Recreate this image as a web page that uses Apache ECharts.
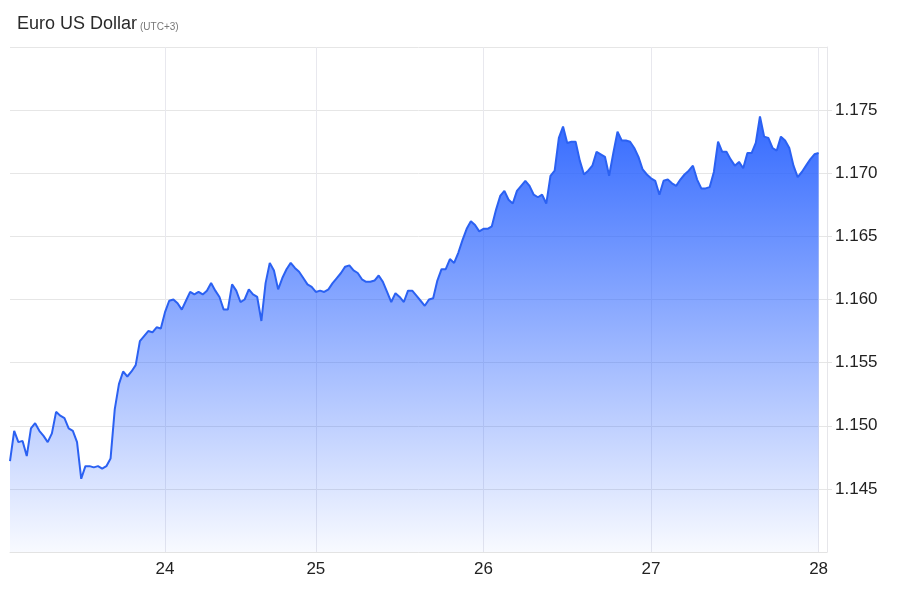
<!DOCTYPE html>
<html><head><meta charset="utf-8">
<script src="https://cdn.jsdelivr.net/npm/echarts@6/dist/echarts.min.js"></script>
<style>html,body{margin:0;padding:0;background:#fff}#c{width:900px;height:600px}</style>
</head><body><div id="c"></div>
<script>
const dayLabels = ['23', '24', '25', '26', '27', '28'];
const day23 = [1.1472, 1.1496, 1.1487, 1.1488, 1.1476, 1.1498, 1.1502, 1.1496, 1.1492, 1.1487,
  1.1494, 1.1511, 1.1508, 1.1506, 1.1498, 1.1496, 1.1487, 1.1458, 1.1468, 1.1468,
  1.1467, 1.1468, 1.1466, 1.1468, 1.1474, 1.1513, 1.1533, 1.1543, 1.1539, 1.1543,
  1.1548, 1.1567, 1.1571, 1.1575, 1.1574, 1.1578, 1.1577];
const day24 = [1.1590, 1.1599, 1.1600, 1.1597, 1.1592, 1.1599, 1.1606, 1.1604, 1.1606, 1.1604,
  1.1607, 1.1613, 1.1607, 1.1602, 1.1592, 1.1592, 1.1612, 1.1607, 1.1598, 1.1600,
  1.1608, 1.1604, 1.1602, 1.1583, 1.1613, 1.1629, 1.1623, 1.1608, 1.1617, 1.1624,
  1.1629, 1.1625, 1.1622, 1.1617, 1.1612, 1.1610];
const day25 = [1.1606, 1.1607, 1.1606, 1.1608, 1.1613, 1.1617, 1.1621, 1.1626, 1.1627, 1.1623,
  1.1621, 1.1616, 1.1614, 1.1614, 1.1615, 1.1619, 1.1614, 1.1606, 1.1598, 1.1605,
  1.1602, 1.1598, 1.1607, 1.1607, 1.1603, 1.1599, 1.1595, 1.1600, 1.1601, 1.1615,
  1.1624, 1.1624, 1.1632, 1.1629, 1.1637, 1.1647, 1.1656, 1.1662, 1.1659, 1.1654];
const day26 = [1.1656, 1.1656, 1.1658, 1.1671, 1.1682, 1.1686, 1.1679, 1.1676, 1.1686, 1.1690,
  1.1694, 1.1690, 1.1683, 1.1681, 1.1683, 1.1676, 1.1698, 1.1702, 1.1728, 1.1737,
  1.1724, 1.1725, 1.1725, 1.1710, 1.1699, 1.1702, 1.1706, 1.1717, 1.1715, 1.1713,
  1.1698, 1.1716, 1.1733, 1.1726, 1.1726, 1.1725, 1.1720, 1.1713, 1.1703, 1.1699];
const day27 = [1.1696, 1.1694, 1.1683, 1.1694, 1.1695, 1.1692, 1.1690, 1.1695, 1.1699, 1.1702,
  1.1706, 1.1695, 1.1688, 1.1688, 1.1689, 1.1701, 1.1725, 1.1717, 1.1717, 1.1711,
  1.1706, 1.1709, 1.1704, 1.1716, 1.1716, 1.1724, 1.1745, 1.1729, 1.1728, 1.1720,
  1.1718, 1.1729, 1.1726, 1.1720, 1.1706, 1.1697, 1.1701, 1.1706, 1.1711, 1.1715];
const day28 = [1.1716];
const dayValues = [day23, day24, day25, day26, day27, day28];
const padCount = 2;
const yMin = 1.140, yMax = 1.180, yStep = 0.005;

const categories = [], values = [], boundary = new Set();
dayValues.forEach((arr, d) => {
  arr.forEach((v, k) => {
    if (k === 0 && d > 0) boundary.add(categories.length);
    categories.push(dayLabels[d] + ' #' + k);
    values.push(v);
  });
});
for (let p = 1; p <= padCount; p++) categories.push('28 pad' + p);

const chart = echarts.init(document.getElementById('c'), null, {renderer: 'canvas'});
const FONT = '"Liberation Sans", Arial, sans-serif';
chart.setOption({
  animation: false,
  backgroundColor: '#fff',
  title: {
    left: 12, top: 7,
    text: '{a|Euro US Dollar}{b|(UTC+3)}',
    textStyle: {
      fontWeight: 'normal',
      rich: {
        a: {fontFamily: FONT, fontSize: 18, fontWeight: 'normal', color: '#2a2a2a', lineHeight: 24},
        b: {fontFamily: FONT, fontSize: 10, fontWeight: 'normal', color: '#777', padding: [7, 0, 0, 3]}
      }
    }
  },
  grid: {left: 10, right: 73, top: 47, bottom: 48, outerBoundsMode: 'none'},
  xAxis: {
    type: 'category',
    data: categories,
    boundaryGap: false,
    axisLine: {show: true, lineStyle: {color: '#e3e3e3', width: 1}},
    axisTick: {show: false},
    axisLabel: {
      interval: (idx) => boundary.has(idx),
      formatter: (val) => val.split(' ')[0],
      color: '#222', fontFamily: FONT, fontSize: 17, margin: 9
    },
    splitLine: {show: true, interval: (idx) => boundary.has(idx), lineStyle: {color: '#e8e8ee', width: 1}}
  },
  yAxis: {
    type: 'value',
    position: 'right',
    min: yMin, max: yMax, interval: yStep,
    axisLine: {show: true, lineStyle: {color: '#e6e6ea', width: 1}},
    axisTick: {show: true, length: 5, lineStyle: {color: '#e3e3e3'}},
    axisLabel: {
      showMinLabel: false, showMaxLabel: false,
      formatter: (v) => v.toFixed(3),
      color: '#222', fontFamily: FONT, fontSize: 17, margin: 8
    },
    splitLine: {show: true, lineStyle: {color: '#e6e6e6', width: 1}}
  },
  series: [{
    type: 'line',
    data: values,
    showSymbol: false,
    symbol: 'none',
    lineStyle: {color: '#2b61f2', width: 2},
    areaStyle: {
      origin: 'start',
      opacity: 1,
      color: new echarts.graphic.LinearGradient(0, 0, 0, 1, [
        {offset: 0, color: 'rgba(41,98,255,0.95)'},
        {offset: 1, color: 'rgba(41,98,255,0.03)'}
      ])
    }
  }]
});
</script></body></html>
